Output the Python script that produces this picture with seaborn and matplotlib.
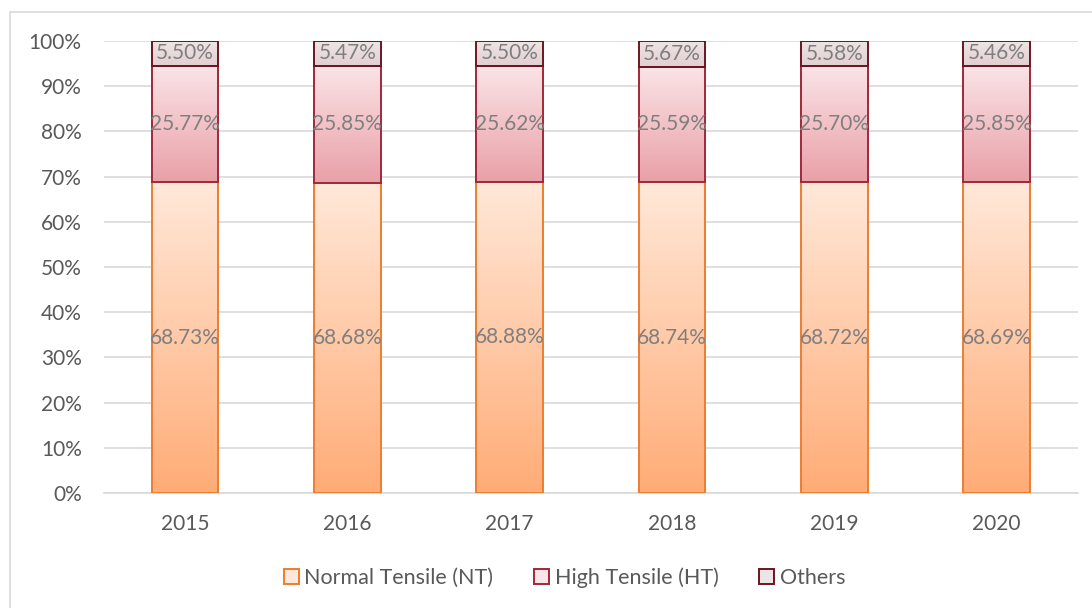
import matplotlib
matplotlib.use("Agg")
import matplotlib.pyplot as plt
import numpy as np
import pandas as pd
import seaborn as sns
from matplotlib.colors import LinearSegmentedColormap
from matplotlib.patches import Patch, Rectangle

YEARS = ["2015", "2016", "2017", "2018", "2019", "2020"]
NORMAL_TENSILE = [68.73, 68.68, 68.88, 68.74, 68.72, 68.69]
HIGH_TENSILE = [25.77, 25.85, 25.62, 25.59, 25.70, 25.85]
OTHERS = [5.50, 5.47, 5.50, 5.67, 5.58, 5.46]

SERIES = [
    ("Normal Tensile (NT)", NORMAL_TENSILE, "#ED7D31", ("#FFAC76", "#FFE8D9")),
    ("High Tensile (HT)", HIGH_TENSILE, "#A0283A", ("#E9A0A7", "#FAE4E7")),
    ("Others", OTHERS, "#6A1622", ("#E2CFD1", "#EFE4E5")),
]

TEXT_COLOR = "#7F7F7F"
TICK_COLOR = "#595959"
GRID_COLOR = "#D9D9D9"


def main() -> None:
    sns.set_theme(style="white")
    plt.rcParams["font.family"] = ["Lato", "DejaVu Sans"]

    fig = plt.figure(figsize=(10.92, 6.08), dpi=100)
    ax = fig.add_axes([0.0952, 0.189, 0.8918, 0.7437])

    # outer chart border
    fig.patches.append(Rectangle((0.009, -0.01), 1.0, 0.99, transform=fig.transFigure,
                                 fill=False, edgecolor=GRID_COLOR, linewidth=1.2))

    bottoms = np.zeros(len(YEARS))
    handles = []
    for name, values, edge, (c_bot, c_top) in SERIES:
        df = pd.DataFrame({"year": YEARS, "share": values})
        n_before = len(ax.patches)
        sns.barplot(data=df, x="year", y="share", ax=ax, width=0.41,
                    facecolor="none", edgecolor=edge, linewidth=1.4, zorder=3)
        cmap = LinearSegmentedColormap.from_list(name, [c_bot, c_top])
        grad = np.linspace(0, 1, 256).reshape(-1, 1)
        for patch, b, v in zip(ax.patches[n_before:], bottoms, values):
            patch.set_y(b)
            patch.set_height(v)
            x0 = patch.get_x()
            x1 = x0 + patch.get_width()
            ax.imshow(grad, cmap=cmap, origin="lower", aspect="auto",
                      extent=(x0, x1, b, b + v), zorder=2, interpolation="bilinear")
            ax.text(x0 + patch.get_width() / 2, b + v / 2, f"{v:.2f}%",
                    ha="center", va="center", fontsize=15, color=TEXT_COLOR, zorder=4)
        bottoms = bottoms + np.array(values)
        handles.append(Patch(facecolor=c_top, edgecolor=edge, linewidth=1.4, label=name))

    ax.set_xlim(-0.5, len(YEARS) - 0.5)
    ax.set_ylim(0, 100)
    ax.set_yticks(np.arange(0, 101, 10))
    ax.set_yticklabels([f"{t}%" for t in range(0, 101, 10)])
    ax.yaxis.grid(True, color=GRID_COLOR, linewidth=1.2, zorder=0)
    ax.set_axisbelow(True)
    ax.set_xlabel("")
    ax.set_ylabel("")
    for side in ["top", "right", "left"]:
        ax.spines[side].set_visible(False)
    ax.spines["bottom"].set_color(GRID_COLOR)
    ax.spines["bottom"].set_linewidth(1.2)
    ax.tick_params(axis="both", length=0, labelsize=15, labelcolor=TICK_COLOR)
    ax.tick_params(axis="x", pad=15)
    ax.tick_params(axis="y", pad=16)

    fig.legend(handles=handles, loc="center", bbox_to_anchor=(0.517, 0.05), ncol=3,
               frameon=False, fontsize=15.5, labelcolor=TICK_COLOR, handlelength=0.7,
               handleheight=0.7, handletextpad=0.25, columnspacing=1.9)

    fig.savefig("out.png", dpi=100)
    plt.close(fig)


if __name__ == "__main__":
    main()
